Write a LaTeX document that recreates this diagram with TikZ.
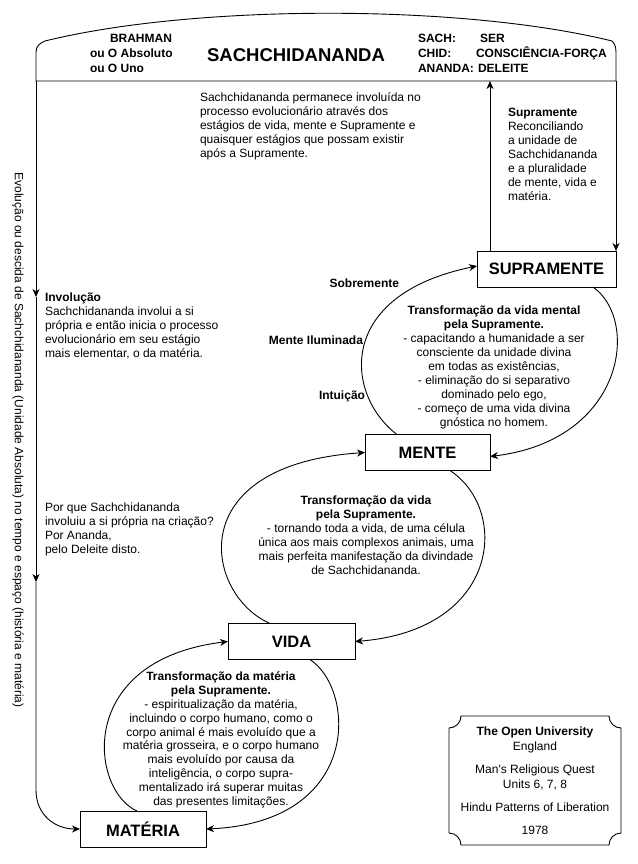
\documentclass[tikz,border=0pt]{standalone}
\usepackage{fontspec}
\setmainfont{Liberation Sans}[Ligatures=TeXOff]
\usetikzlibrary{arrows.meta}
\begin{document}
\begin{tikzpicture}[x=1pt,y=-1pt,
  every node/.style={inner sep=0pt, outer sep=0pt},
  ln/.style={line width=0.9pt},
  arr/.style={ln, -{Stealth[length=8pt,width=7pt,inset=2.5pt]}},
  stage/.style={draw, line width=0.9pt, font=\fontsize{16.5}{18}\selectfont\bfseries, minimum height=36pt},
  body/.style={font=\fontsize{12}{14}\selectfont},
  bodyc/.style={body, align=center, anchor=north},
  bodyl/.style={body, align=left, anchor=north west},
  hdr/.style={font=\fontsize{12}{14}\selectfont\bfseries, anchor=base west},
  side/.style={font=\fontsize{12}{14}\selectfont\bfseries, anchor=east}
]
\useasboundingbox (0,0) rectangle (637,864);
\fill[white] (0,0) rectangle (637,864);

% header
\draw[ln] (36,81) -- (36,52) .. controls (36,46) and (40,43) .. (45,41)
  .. controls (195,4) and (462,4) .. (612,41)
  .. controls (614,43) and (616,46) .. (616,52) -- (616,81) -- cycle;
\coordinate (hl) at (36,81);
\coordinate (hr) at (616,81);
\coordinate (hup) at (490,81);

\node[hdr] (brahman) at (110,42.5) {BRAHMAN};
\node[hdr] (abs) at (90,57.5) {ou O Absoluto};
\node[hdr] (uno) at (90,72.5) {ou O Uno};
\node[font=\fontsize{18.5}{22}\selectfont\bfseries] (title) at (296,55) {SACHCHIDANANDA};
\node[hdr] (sach) at (418,42.5) {SACH:};
\node[hdr] (ser) at (480,42.5) {SER};
\node[hdr] (chid) at (418,57.5) {CHID:};
\node[hdr] (cf) at (476,57.5) {CONSCIÊNCIA-FORÇA};
\node[hdr] (ananda) at (418,72.5) {ANANDA:};
\node[hdr] (del) at (478,72.5) {DELEITE};

% stage boxes
\node[stage, minimum width=139pt] (sup) at (546.5,269) {SUPRAMENTE};
\node[stage, minimum width=125pt] (men) at (427.5,452.5) {MENTE};
\node[stage, minimum width=127pt] (vid) at (291.5,641.5) {VIDA};
\node[stage, minimum width=126pt] (mat) at (143,829) {MATÉRIA};

% texts
\node[rotate=-90, body] (evo) at (18,440) {Evolução ou descida de Sachchidananda (Unidade Absoluta) no tempo e espaço (história e matéria)};

\node[bodyl] (perm) at (200,92.5) {Sachchidananda permanece involuída no\\processo evolucionário através dos\\estágios de vida, mente e Supramente e\\quaisquer estágios que possam existir\\após a Supramente.};

\node[bodyl] (suptxt) at (508,108.5) {\textbf{Supramente}\\Reconciliando\\a unidade de\\Sachchidananda\\e a pluralidade\\de mente, vida e\\matéria.};

\node[bodyl] (invtxt) at (45,292.5) {\textbf{Involução}\\Sachchidananda involui a si\\própria e então inicia o processo\\evolucionário em seu estágio\\mais elementar, o da matéria.};

\node[bodyl] (porque) at (45,502.5) {Por que Sachchidananda\\involuiu a si própria na criação?\\Por Ananda,\\pelo Deleite disto.};

\node[bodyc] (c1) at (494,305.5) {\textbf{Transformação da vida mental}\\\textbf{pela Supramente.}\\- capacitando a humanidade a ser\\consciente da unidade divina\\em todas as existências,\\- eliminação do si separativo\\dominado pelo ego,\\- começo de uma vida divina\\gnóstica no homem.};

\node[bodyc] (c2) at (366,495.5) {\textbf{Transformação da vida}\\\textbf{pela Supramente.}\\- tornando toda a vida, de uma célula\\única aos mais complexos animais, uma\\mais perfeita manifestação da divindade\\de Sachchidananda.};

\node[bodyc, font=\fontsize{12}{13.8}\selectfont] (c3) at (221,672) {\textbf{Transformação da matéria}\\\textbf{pela Supramente.}\\- espiritualização da matéria,\\incluindo o corpo humano, como o\\corpo animal é mais evoluído que a\\matéria grosseira, e o corpo humano\\mais evoluído por causa da\\inteligência, o corpo supra-\\mentalizado irá superar muitas\\das presentes limitações.};

\node[side] (sobre) at (399,283) {Sobremente};
\node[side] (ilum) at (363,340) {Mente Iluminada};
\node[side] (intu) at (365,396) {Intuição};

% plaque
\draw[ln] (461,716) -- (609,716) .. controls (609,722.6) and (614.4,728) .. (621,728)
  -- (621,833) .. controls (614.4,833) and (609,838.4) .. (609,845)
  -- (461,845) .. controls (461,838.4) and (455.6,833) .. (449,833)
  -- (449,728) .. controls (455.6,728) and (461,722.6) .. (461,716) -- cycle;
\node[body, align=center, anchor=north, font=\fontsize{12}{15}\selectfont] (ou) at (535,726.5) {\textbf{The Open University}\\England\\[8pt]Man's Religious Quest\\Units 6, 7, 8\\[8pt]Hindu Patterns of Liberation\\[8pt]1978};

% connectors
\coordinate (inv) at (36,297);
\coordinate (porq) at (36,582);
\draw[arr] (hl) -- (inv);
\draw[arr] (inv) -- (porq);
\draw[arr] (porq) -- (36,790) .. controls (36,815) and (55,829) .. (mat.west);
\draw[arr] (hr) -- (sup.north east);
\draw[arr] (sup.north -| hup) -- (hup);

% circular arcs
\draw[arr] ([xshift=32pt]men.north west) .. controls (345,395) and (335,295) .. ([yshift=3pt]sup.west);
\draw[arr] ([xshift=-23pt]sup.south east) .. controls (640,320) and (625,440) .. ([yshift=-4pt]men.east);
\draw[arr] ([xshift=42pt]vid.north west) .. controls (205,595) and (180,465) .. (men.west);
\draw[arr] ([xshift=-40pt]men.south east) .. controls (510,510) and (500,630) .. (vid.east);
\draw[arr] ([xshift=57pt]mat.north west) .. controls (90,790) and (75,660) .. (vid.west);
\draw[arr] ([xshift=-45pt]vid.south east) .. controls (356,690) and (362,822) .. (mat.east);
\end{tikzpicture}
\end{document}
